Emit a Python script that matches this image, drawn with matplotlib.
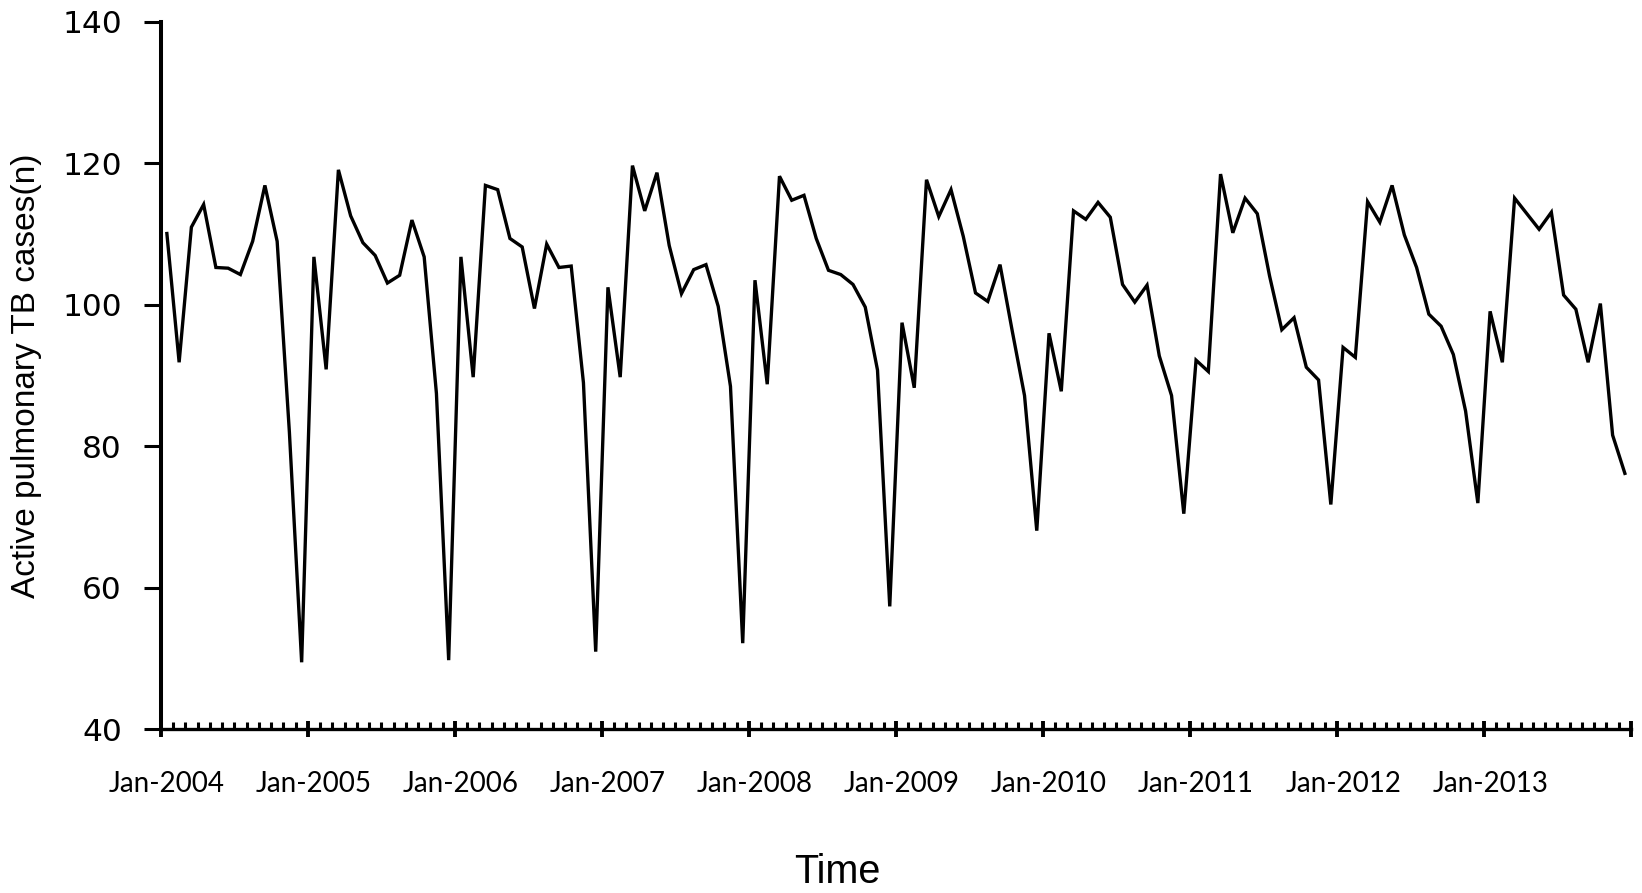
import numpy as np
import matplotlib
matplotlib.use("Agg")
import matplotlib.pyplot as plt

# monthly counts, Jan-2004 .. Dec-2013
y2004 = [110.1, 91.9, 111.0, 114.2, 105.3, 105.2, 104.3, 109.0, 116.9, 109.0, 82.0, 49.5]
y2005 = [106.8, 90.9, 119.1, 112.6, 108.8, 107.0, 103.1, 104.2, 112.0, 106.8, 87.5, 49.8]
y2006 = [106.8, 89.8, 116.9, 116.3, 109.4, 108.2, 99.5, 108.6, 105.3, 105.5, 89.0, 51.0]
y2007 = [102.5, 89.8, 119.7, 113.3, 118.7, 108.4, 101.6, 105.0, 105.7, 99.8, 88.5, 52.2]
y2008 = [103.5, 88.8, 118.2, 114.8, 115.5, 109.4, 104.9, 104.3, 102.9, 99.7, 90.8, 57.4]
y2009 = [97.5, 88.3, 117.7, 112.5, 116.3, 109.7, 101.7, 100.5, 105.7, 96.3, 87.2, 68.1]
y2010 = [96.0, 87.8, 113.3, 112.1, 114.5, 112.4, 102.9, 100.4, 102.8, 92.8, 87.2, 70.5]
y2011 = [92.2, 90.6, 118.5, 110.2, 115.1, 112.9, 104.1, 96.5, 98.2, 91.2, 89.4, 71.8]
y2012 = [94.0, 92.6, 114.6, 111.7, 116.9, 109.9, 105.3, 98.7, 97.0, 93.0, 85.0, 72.0]
y2013 = [99.1, 91.9, 115.1, 112.9, 110.7, 113.1, 101.4, 99.4, 91.9, 100.2, 81.6, 76.2]

years = list(range(2004, 2014))
cases = np.array(y2004 + y2005 + y2006 + y2007 + y2008 +
                 y2009 + y2010 + y2011 + y2012 + y2013)
year_labels = [f"Jan-{y}" for y in years]
yticks = [40, 60, 80, 100, 120, 140]

months = np.arange(len(cases))

fig = plt.figure(figsize=(16.42, 8.93), dpi=100)
ax = fig.add_axes([0.0979, 0.1831, 0.8954, 0.7923])

ax.plot(months, cases, color="black", lw=2.4, solid_joinstyle="miter")

ax.set_xlim(-0.5, len(cases) - 0.5)
ax.set_ylim(40, 140)

for s in ["top", "right"]:
    ax.spines[s].set_visible(False)
ax.spines["left"].set_linewidth(2.9)
ax.spines["bottom"].set_linewidth(2.4)

# y axis
ax.set_yticks(yticks)
ax.set_yticklabels([str(v) for v in yticks], fontfamily="DejaVu Sans", fontsize=22.5)
ax.tick_params(axis="y", direction="out", length=12, width=2.2, pad=16)

# x axis: month boundaries as small inward ticks, year boundaries crossing
ax.set_xticks(np.arange(-0.5, len(cases), 12))
ax.set_xticklabels([])
ax.set_xticks(np.arange(-0.5, len(cases), 1), minor=True)
ax.tick_params(axis="x", which="major", direction="inout", length=12, width=2.8)
ax.tick_params(axis="x", which="minor", direction="in", length=5, width=2.2)

# year labels centred on January
sec = ax.secondary_xaxis("bottom")
sec.set_xticks(months[::12])
sec.set_xticklabels(year_labels, fontfamily="Lato", fontsize=20)
sec.tick_params(length=0, pad=30)
sec.spines["bottom"].set_visible(False)

ax.set_ylabel("Active pulmonary TB cases(n)", fontfamily="Liberation Sans", fontsize=24)
ax.yaxis.set_label_coords(-0.081, 0.5)
ax.set_xlabel("Time", fontfamily="Liberation Sans", fontsize=28.5)
ax.xaxis.set_label_coords(0.46, -0.175)

fig.savefig("out.png", dpi=100)
